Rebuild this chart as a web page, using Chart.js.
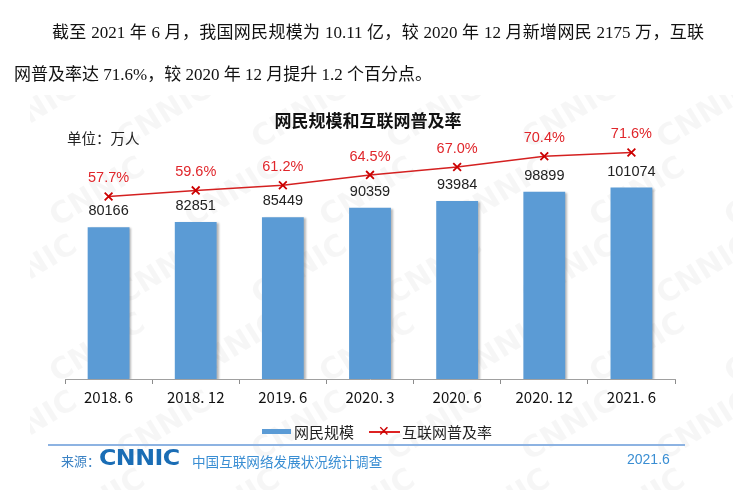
<!DOCTYPE html>
<html>
<head>
<meta charset="utf-8">
<script src="https://cdn.jsdelivr.net/npm/chart.js@4/dist/chart.umd.min.js"></script>
<style>
  html, body { margin: 0; padding: 0; background: #fff; }
  #wrap { position: relative; width: 733px; height: 490px; overflow: hidden; }
  #cv { position: absolute; left: 0; top: 0; }
  .t { position: absolute; white-space: nowrap; }
  .para { font-family: "Liberation Serif", "Noto Sans CJK SC", serif; font-size: 17px; color: #111; }
  .cjk { font-family: "Noto Sans CJK SC", sans-serif; }
</style>
</head>
<body>
<div id="wrap">
  <canvas id="cv" width="733" height="490"></canvas>

  <!-- 正文段落 -->
  <div class="t para" style="left:52px; top:18px; width:652px; text-align:justify; text-align-last:justify;">截至 2021 年 6 月，我国网民规模为 10.11 亿，较 2020 年 12 月新增网民 2175 万，互联</div>
  <div class="t para" style="left:14px; top:60px;">网普及率达 71.6%，较 2020 年 12 月提升 1.2 个百分点。</div>

  <!-- 标题 / 单位 -->
  <div class="t cjk" style="left:0; width:736px; text-align:center; top:107px; font-size:17px; font-weight:bold; color:#111;">网民规模和互联网普及率</div>
  <div class="t cjk" style="left:67px; top:127px; font-size:14.5px; color:#222;">单位：万人</div>

  <!-- 图例 -->
  <div class="t" style="left:262px; top:429px; width:29px; height:5px; background:#5b9bd5;"></div>
  <div class="t cjk" style="left:294px; top:421px; font-size:15px; color:#222;">网民规模</div>
  <div class="t" style="left:369px; top:431px; width:31px; height:1.5px; background:#d22;"></div>
  <div class="t" style="left:378px; top:421px; font-family:'DejaVu Sans'; font-size:14px; color:#c00; line-height:20px;">✕</div>
  <div class="t cjk" style="left:402px; top:421px; font-size:15px; color:#222;">互联网普及率</div>

  <!-- 页脚 -->
  <div class="t" style="left:48px; top:444px; width:637px; height:2px; background:#8db3e2;"></div>
  <div class="t cjk" style="left:61px; top:451px; font-size:13px; color:#3b82c4;">来源：</div>
  <div class="t" style="left:99px; top:446px; font-family:'DejaVu Sans'; font-weight:bold; font-size:21px; color:#1a6db5; transform:scaleX(1.13); transform-origin:left center; letter-spacing:-0.5px;">CNNIC</div>
  <div class="t cjk" style="left:192px; top:451px; font-size:13.6px; color:#3a8ed3;">中国互联网络发展状况统计调查</div>
  <div class="t" style="left:627px; top:451px; font-family:'Liberation Sans'; font-size:14px; color:#3a8ed3;">2021.6</div>
</div>

<script>
// 数据
const periodos = ['2018. 6', '2018. 12', '2019. 6', '2020. 3', '2020. 6', '2020. 12', '2021. 6'];
const netizens = [80166, 82851, 85449, 90359, 93984, 98899, 101074];
const penetration = [57.7, 59.6, 61.2, 64.5, 67.0, 70.4, 71.6];

// 水印 CNNIC
const watermark = {
  id: 'watermark',
  beforeDraw(chart) {
    const ctx = chart.ctx;
    ctx.save();
    ctx.beginPath();
    ctx.rect(30, 95, 703, 395);
    ctx.clip();
    ctx.font = 'bold 30px "DejaVu Sans"';
    ctx.fillStyle = 'rgba(0,0,0,0.035)';
    ctx.textAlign = 'center';
    ctx.textBaseline = 'middle';
    for (let row = 0; row < 6; row++) {
      for (let col = 0; col < 7; col++) {
        const x = 30 + col * 135 + (row % 2) * 68;
        const y = 115 + row * 78;
        ctx.save();
        ctx.translate(x, y);
        ctx.rotate(-0.55);
        ctx.fillText('CNNIC', 0, 0);
        ctx.restore();
      }
    }
    ctx.restore();
  }
};

// 柱子阴影
const barShadow = {
  id: 'barShadow',
  beforeDatasetDraw(chart, args) {
    if (args.index !== 0) return;
    const ctx = chart.ctx;
    ctx.save();
    ctx.shadowColor = 'rgba(0,0,0,0.28)';
    ctx.shadowOffsetX = 2;
    ctx.shadowOffsetY = 1;
    ctx.shadowBlur = 2;
  },
  afterDatasetDraw(chart, args) {
    if (args.index !== 0) return;
    chart.ctx.restore();
  }
};

// 数值标签
const valueLabels = {
  id: 'valueLabels',
  afterDatasetsDraw(chart) {
    const ctx = chart.ctx;
    ctx.save();
    ctx.textAlign = 'center';
    ctx.textBaseline = 'middle';
    ctx.font = '14.5px "Liberation Sans"';
    ctx.fillStyle = '#222';
    chart.getDatasetMeta(0).data.forEach((bar, i) => {
      ctx.fillText(String(netizens[i]), bar.x, bar.y - 16);
    });
    ctx.fillStyle = '#e0262b';
    chart.getDatasetMeta(1).data.forEach((pt, i) => {
      ctx.fillText(penetration[i].toFixed(1) + '%', pt.x, pt.y - 18);
    });
    ctx.restore();
  }
};

new Chart(document.getElementById('cv'), {
  type: 'bar',
  data: {
    labels: periodos,
    datasets: [{
      label: '网民规模',
      data: netizens,
      backgroundColor: '#5b9bd5',
      categoryPercentage: 1,
      barPercentage: 0.48,
      yAxisID: 'y',
      order: 2
    }, {
      type: 'line',
      label: '互联网普及率',
      data: penetration,
      borderColor: '#d42020',
      borderWidth: 1.5,
      pointStyle: 'crossRot',
      pointRadius: 5.5,
      pointBorderWidth: 1.8,
      pointBorderColor: '#cc0000',
      clip: false,
      yAxisID: 'y1',
      order: 1
    }]
  },
  options: {
    responsive: false,
    animation: false,
    events: [],
    layout: { autoPadding: false, padding: { left: 65, right: 58, top: 129, bottom: 81 } },
    plugins: { legend: { display: false }, title: { display: false }, tooltip: { enabled: false } },
    scales: {
      x: {
        afterFit(axis) { axis.height = 30; },
        grid: { drawOnChartArea: false, drawTicks: true, tickLength: 5, color: '#8c8c8c', offset: true },
        border: { color: '#a0a0a0', width: 1 },
        ticks: { color: '#111', padding: 4, font: { family: 'Noto Sans CJK SC', size: 15 } }
      },
      y: { display: false, min: 0, max: 132000 },
      y1: { display: false, min: 0, max: 79 }
    }
  },
  plugins: [watermark, barShadow, valueLabels]
});
</script>
</body>
</html>
